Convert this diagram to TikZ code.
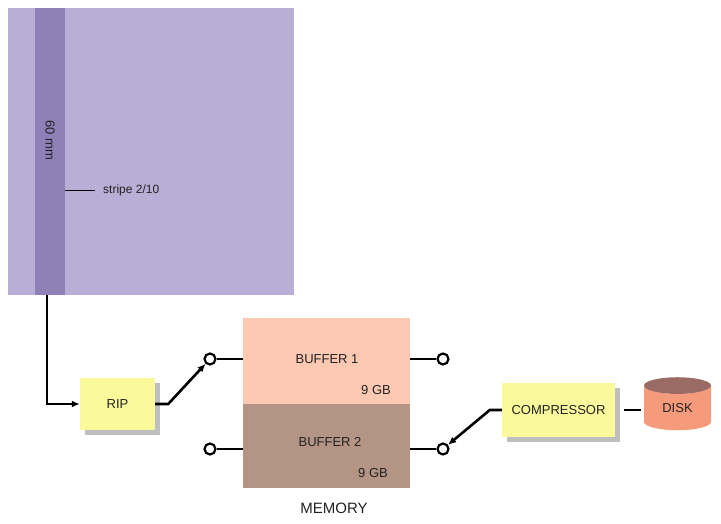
\documentclass[tikz,border=0pt]{standalone}
\usepackage{fontspec}
\setmainfont{Liberation Sans}
\usetikzlibrary{arrows.meta,shadows,shapes.geometric}
\definecolor{paper}{HTML}{B9AED5}
\definecolor{stripecol}{HTML}{8F80B8}
\definecolor{notepad}{HTML}{FAFA9C}
\definecolor{bufonecol}{HTML}{FDC9B3}
\definecolor{buftwocol}{HTML}{B49585}
\definecolor{diskbody}{HTML}{F69A7C}
\definecolor{disktop}{HTML}{9A6A64}
\definecolor{ink}{HTML}{222222}
\tikzset{
  lbl/.style={font=\fontsize{13}{15}\selectfont, text=ink, inner sep=0},
  unitbox/.style={fill=notepad, minimum width=75, minimum height=52, inner sep=0, lbl,
    drop shadow={shadow xshift=5pt, shadow yshift=-5pt, fill=black, opacity=0.25}},
  membox/.style={minimum width=167, inner sep=0, outer sep=0},
  pin/.style={circle, draw=black, fill=white, line width=2.2pt, minimum size=11, inner sep=0},
  wire/.style={line width=2.6pt, draw=black},
  feedwire/.style={wire, -{Latex[length=8pt,width=7pt]}}
}
\begin{document}
\begin{tikzpicture}[x=1pt,y=-1pt]
  \useasboundingbox (0,0) rectangle (721,523);
  \node[fill=paper, minimum width=286, minimum height=287, inner sep=0, outer sep=0, anchor=north west] (sheet) at (8,8) {};
  \node[fill=stripecol, minimum width=30, minimum height=287, inner sep=0, outer sep=0, anchor=north west] (stripe) at (35,8) {};
  \node[lbl, rotate=-90] (stripewidth) at (50,140) {60 mm};
  \coordinate (tick) at (65,190);
  \coordinate (tickend) at (95,190);
  \node[lbl, anchor=west, font=\fontsize{12}{14}\selectfont] (stripename) at (103,190) {stripe 2/10};
  \draw[line width=0.8pt] (tick) -- (tickend);

  \node[unitbox] (rip) at (117.5,404) {RIP};
  \node[unitbox, minimum width=113, minimum height=54] (comp) at (558.5,410) {COMPRESSOR};
  \node[cylinder, shape border rotate=90, aspect=0.55, minimum width=67, minimum height=53,
    cylinder uses custom fill, cylinder body fill=diskbody, cylinder end fill=disktop,
    inner sep=0, lbl] (disk) at (677.5,408) {DISK};

  \node[membox, fill=bufonecol, minimum height=86, anchor=north west] (buf1) at (243,318) {};
  \node[membox, fill=buftwocol, minimum height=84, anchor=north west] (buf2) at (243,404) {};
  \node[lbl] (buf1name) at (327,359) {BUFFER 1};
  \node[lbl] (buf1size) at (376,390) {9 GB};
  \node[lbl] (buf2name) at (330,442) {BUFFER 2};
  \node[lbl] (buf2size) at (373,473) {9 GB};
  \node[lbl, font=\fontsize{15}{17}\selectfont] (memory) at (334,508) {MEMORY};

  \node[pin] (inA) at (210,359) {};
  \node[pin] (inB) at (210,449) {};
  \node[pin] (outA) at (443,359) {};
  \node[pin] (outB) at (443,449) {};

  \coordinate (feed) at (47,295);
  \draw[feedwire] (feed) |- (rip.west);
  \draw[feedwire] (rip.east) -- ++(13,0) -- (inA);
  \draw[feedwire] (comp.west) -- ++(-12,0) -- (outB);
  \draw[wire, shorten <=9pt, shorten >=3pt] (comp.east) -- (disk.west |- comp.east);
  \draw[wire] (inA) -- (buf1.west |- inA);
  \draw[wire] (inB) -- (buf2.west |- inB);
  \draw[wire] (outA) -- (buf1.east |- outA);
  \draw[wire] (outB) -- (buf2.east |- outB);
\end{tikzpicture}
\end{document}
